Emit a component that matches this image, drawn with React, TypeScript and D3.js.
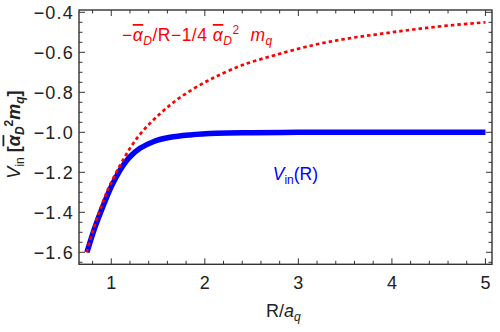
import { scaleLinear, line, curveCatmullRom, range } from "d3";

const width = 500;
const height = 332;

// dotted red: -alpha/R - 1/4 alpha^2 m_q
const redR = [0.737, 0.8, 0.87, 0.93, 0.986, 1.094, 1.2, 1.307, 1.414, 1.521, 1.628, 1.735, 1.877, 2.02, 2.144, 2.395, 2.751, 3.16, 3.518, 3.874, 4.23, 4.587, 5.0];
const redV = [-1.6, -1.5, -1.4, -1.325, -1.263, -1.165, -1.08, -1.01, -0.955, -0.907, -0.864, -0.826, -0.783, -0.745, -0.716, -0.665, -0.614, -0.564, -0.532, -0.508, -0.486, -0.467, -0.45];

// thick blue: V_in(R)
const blueR = [0.74, 0.8, 0.861, 0.92, 0.968, 1.004, 1.05, 1.093, 1.15, 1.2, 1.307, 1.449, 1.628, 1.842, 2.127, 2.5, 3.0, 3.5, 4.0, 4.5, 5.0];
const blueV = [-1.6, -1.51, -1.43, -1.36, -1.305, -1.268, -1.226, -1.19, -1.15, -1.122, -1.08, -1.047, -1.025, -1.013, -1.005, -1.002, -1.0, -1.0, -1.0, -1.0, -1.0];

const xTicks = [1, 2, 3, 4, 5];
const yTicks = [-1.6, -1.4, -1.2, -1.0, -0.8, -0.6, -0.4];

const left = 79;
const right = 492;
const top = 10;
const bottom = 264.3;

const frameColor = "#333";
const font = "'Liberation Sans', Arial, sans-serif";

const App = () => {
  const x = scaleLinear().domain([0.655, 5.07]).range([left, right]);
  const y = scaleLinear().domain([-1.66, -0.3885]).range([bottom, top]);

  const xMinor = range(0.8, 5.01, 0.2).filter((v) => Math.abs(v - Math.round(v)) > 0.01);
  const yMinor = range(-1.65, -0.39, 0.05).filter(
    (v) => Math.abs(v * 5 - Math.round(v * 5)) > 0.01
  );

  const mkLine = (xs: number[], ys: number[]) =>
    line<number>()
      .x((d, i) => x(xs[i]))
      .y((d) => y(d))
      .curve(curveCatmullRom)(ys) as string;

  const fmt = (v: number) => (v < 0 ? "\u2212" : "") + Math.abs(v).toFixed(1);

  return (
    <svg
      width={width}
      height={height}
      style={{ position: "absolute", left: 0, top: 0, background: "#fff" }}
      fontFamily={font}
    >
      {/* curves */}
      <path d={mkLine(blueR, blueV)} fill="none" stroke="#0000ff" strokeWidth={5.5} />
      <path
        d={mkLine(redR, redV)}
        fill="none"
        stroke="#ff0000"
        strokeWidth={2.7}
        strokeDasharray="3.5 3"
      />

      {/* frame */}
      <rect
        x={left}
        y={top}
        width={right - left}
        height={bottom - top}
        fill="none"
        stroke={frameColor}
        strokeWidth={1.4}
      />

      {/* ticks */}
      <g stroke={frameColor} strokeWidth={1}>
        {xTicks.map((t) => (
          <g key={"xt" + t}>
            <line x1={x(t)} x2={x(t)} y1={bottom} y2={bottom - 6} />
            <line x1={x(t)} x2={x(t)} y1={top} y2={top + 6} />
          </g>
        ))}
        {xMinor.map((t) => (
          <g key={"xm" + t}>
            <line x1={x(t)} x2={x(t)} y1={bottom} y2={bottom - 3.5} />
            <line x1={x(t)} x2={x(t)} y1={top} y2={top + 3.5} />
          </g>
        ))}
        {yTicks.map((t) => (
          <g key={"yt" + t}>
            <line x1={left} x2={left + 6} y1={y(t)} y2={y(t)} />
            <line x1={right} x2={right - 6} y1={y(t)} y2={y(t)} />
          </g>
        ))}
        {yMinor.map((t) => (
          <g key={"ym" + t}>
            <line x1={left} x2={left + 3.5} y1={y(t)} y2={y(t)} />
            <line x1={right} x2={right - 3.5} y1={y(t)} y2={y(t)} />
          </g>
        ))}
      </g>

      {/* tick labels */}
      <g fontSize={18} fill="#222">
        {xTicks.map((t) => (
          <text key={"xl" + t} x={x(t)} y={288.5} textAnchor="middle">
            {t}
          </text>
        ))}
        {yTicks.map((t) => (
          <text key={"yl" + t} x={74} y={y(t) + 6.5} textAnchor="end" letterSpacing={1.2}>
            {fmt(t)}
          </text>
        ))}
      </g>

      {/* axis labels */}
      <text x={266} y={317} fontSize={18} fill="#222">
        R/<tspan fontStyle="italic">a</tspan>
        <tspan fontStyle="italic" fontSize={12} dy={4}>
          q
        </tspan>
      </text>
      <text
        transform="translate(19.5,134.5) rotate(-90)"
        textAnchor="middle"
        fontSize={18}
        fill="#222"
      >
        <tspan fontStyle="italic">V</tspan>
        <tspan fontSize={12} dy={4}>
          in
        </tspan>
        <tspan dy={-4} fontWeight="bold">
          {"\u00a0["}
        </tspan>
        <tspan fontStyle="italic" fontWeight="bold" style={{ textDecoration: "overline" }}>
          α
        </tspan>
        <tspan fontStyle="italic" fontWeight="bold" fontSize={12} dy={4}>
          D
        </tspan>
        <tspan fontWeight="bold" fontSize={12} dy={-11}>
          2
        </tspan>
        <tspan fontStyle="italic" fontWeight="bold" dy={7}>
          m
        </tspan>
        <tspan fontStyle="italic" fontWeight="bold" fontSize={12} dy={4}>
          q
        </tspan>
        <tspan fontWeight="bold" dy={-4}>
          ]
        </tspan>
      </text>

      {/* curve labels */}
      <text x={122} y={41} fontSize={17.5} fill="#ff0000" letterSpacing={0.5}>
        {"\u2212"}
        <tspan fontStyle="italic" style={{ textDecoration: "overline" }}>
          α
        </tspan>
        <tspan fontStyle="italic" fontSize={12} dy={4}>
          D
        </tspan>
        <tspan dy={-4}>/R{"\u2212"}1/4 </tspan>
        <tspan fontStyle="italic" style={{ textDecoration: "overline" }}>
          α
        </tspan>
        <tspan fontStyle="italic" fontSize={12} dy={4}>
          D
        </tspan>
        <tspan fontSize={12} dy={-11}>
          2
        </tspan>
        <tspan fontStyle="italic" dy={7}>
          {"\u00a0\u00a0"}m
        </tspan>
        <tspan fontStyle="italic" fontSize={12} dy={4}>
          q
        </tspan>
      </text>
      <text x={272.7} y={180} fontSize={17.5} fill="#0000ff">
        <tspan fontStyle="italic">V</tspan>
        <tspan fontSize={12} dy={4}>
          in
        </tspan>
        <tspan dy={-4}>(R)</tspan>
      </text>
    </svg>
  );
};

export default App;
